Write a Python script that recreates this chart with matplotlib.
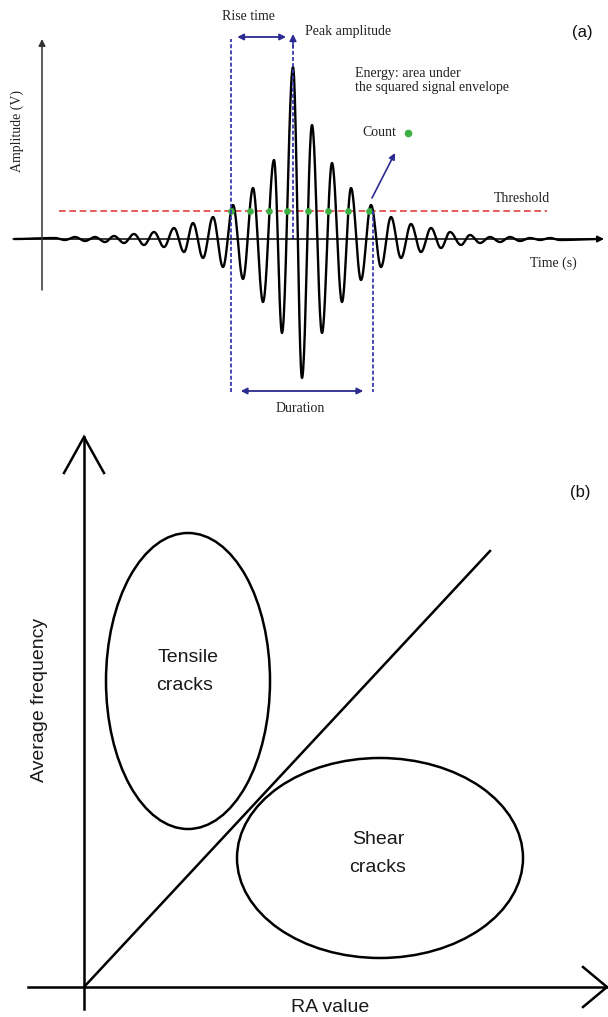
import numpy as np
import matplotlib
matplotlib.use("Agg")
import matplotlib.pyplot as plt
from matplotlib.patches import Ellipse

# ---------------------------------------------------------------
# Panel (a): acoustic-emission burst (time and amplitude in arbitrary units)
# successive peaks / troughs of the waveform
wave_times = [1.3, 2.3, 3.3, 4.3, 5.3, 6.3, 7.2, 8.2, 9.2, 10.2, 11.2, 12.2,
              13.2, 14.2, 15.1, 16.1, 17.1, 18.1, 19.1, 20.1, 21.1, 22.1,
              23.2, 24.0, 25.1, 26.0, 27.0, 28.0, 29.0, 30.0, 30.9, 31.9,
              32.9, 33.9, 34.9, 35.9, 36.9, 37.9, 38.9, 39.9, 40.8, 41.9,
              42.8, 43.8, 44.8, 45.8, 46.8, 47.8, 48.8, 49.8, 50.8, 51.8]
wave_amps = [0.1, -0.1, 0.2, -0.2, 0.2, -0.3, 0.3, -0.4, 0.5, -0.6, 0.7, -0.8,
             1.1, -1.3, 1.6, -1.9, 2.2, -2.8, 3.4, -4.0, 5.1, -6.3,
             7.9, -9.4, 17.2, -13.9, 11.4, -9.4, 7.6, -6.3, 5.1, -4.1,
             3.4, -2.8, 2.2, -1.9, 1.5, -1.3, 1.1, -0.9, 0.7, -0.6,
             0.4, -0.4, 0.2, -0.3, 0.2, -0.2, 0.1, -0.1, 0.1, -0.1]
wave_start = -2.7
wave_end = 55.8
threshold = 2.8
threshold_span = [1.7, 50.5]

# Panel (b): RA value vs. average frequency classification
boundary_ra = [0.0, 40.6]
boundary_af = [0.0, 43.6]
tensile_center = (10.4, 30.6)
tensile_size = (16.4, 29.6)
shear_center = (29.6, 12.9)
shear_size = (28.6, 20.0)

SERIF = ["Liberation Serif", "DejaVu Serif"]
SANS = ["Liberation Sans", "DejaVu Sans"]
NAVY = "#2b2b90"
BLUE_DASH = "#3a3ab0"
RED = "#e2413d"
GREEN = "#3cb043"


def burst_curve(kt, ka, n=24):
    """Smooth half-cosine transitions between consecutive extrema."""
    ts, ys = [], []
    for t0, t1, a0, a1 in zip(kt[:-1], kt[1:], ka[:-1], ka[1:]):
        s = np.linspace(0.0, 1.0, n, endpoint=False)
        ts.append(t0 + (t1 - t0) * s)
        ys.append(a0 + (a1 - a0) * (1 - np.cos(np.pi * s)) / 2)
    ts.append([kt[-1]])
    ys.append([ka[-1]])
    return np.concatenate(ts), np.concatenate(ys)


def level_crossings(kt, ka, level, rising=True):
    out = []
    for t0, t1, a0, a1 in zip(kt[:-1], kt[1:], ka[:-1], ka[1:]):
        if (rising and a0 < level <= a1) or (not rising and a0 >= level > a1):
            s = np.arccos(1 - 2 * (level - a0) / (a1 - a0)) / np.pi
            out.append(t0 + (t1 - t0) * s)
    return out


knots_t = [wave_start] + wave_times + [wave_end]
knots_a = [0.0] + wave_amps + [0.0]
t_curve, a_curve = burst_curve(knots_t, knots_a)
counts = level_crossings(knots_t, knots_a, threshold, rising=True)
t_first = counts[0]
t_last = level_crossings(knots_t, knots_a, threshold, rising=False)[-1]
t_peak = wave_times[int(np.argmax(wave_amps))]

W, H = 608, 1017
fig = plt.figure(figsize=(W / 100, H / 100), dpi=100)
fig.patch.set_facecolor("white")

# ------------------------------ panel (a)
ax = fig.add_axes([0, 1 - 420 / H, 1, 420 / H])
ax.set_xlim(-4.2, 56.6)
ax.set_ylim(-18.1, 23.9)
ax.axis("off")

# axes of the sketch
ax.annotate("", xy=(56.2, 0), xytext=(-2.9, 0),
            arrowprops=dict(arrowstyle="-|>", color="black", lw=1.1,
                            mutation_scale=10, shrinkA=0, shrinkB=0))
ax.annotate("", xy=(0, 20.0), xytext=(0, -5.1),
            arrowprops=dict(arrowstyle="-|>", color="#333333", lw=1.1,
                            mutation_scale=10, shrinkA=0, shrinkB=0))

# threshold
ax.plot(threshold_span, [threshold, threshold], color=RED, lw=1.2,
        linestyle=(0, (4, 2.2)))

# waveform
ax.plot(t_curve, a_curve, color="black", lw=1.7, solid_joinstyle="round")

# counts
ax.plot(counts, [threshold] * len(counts), "o", color=GREEN, ms=4.8,
        markeredgewidth=0)

# marker lines
dash = (0, (2.2, 1.2))
ax.plot([t_first, t_first], [-15.3, 20.0], color=BLUE_DASH, lw=1.3, linestyle=dash)
ax.plot([t_last, t_last], [threshold, -15.3], color=BLUE_DASH, lw=1.3, linestyle=dash)
ax.plot([t_peak, t_peak], [0, 19.4], color=BLUE_DASH, lw=1.3, linestyle=dash)
ax.annotate("", xy=(t_peak, 20.5), xytext=(t_peak, 19.2),
            arrowprops=dict(arrowstyle="-|>", color=NAVY, lw=1.2,
                            mutation_scale=10, shrinkA=0, shrinkB=0))

# rise time & duration arrows
ax.annotate("", xy=(t_peak, 20.2), xytext=(t_first, 20.2),
            arrowprops=dict(arrowstyle="<|-|>", color=NAVY, lw=1.3,
                            mutation_scale=9, shrinkA=4.5, shrinkB=5))
ax.annotate("", xy=(t_last, -15.2), xytext=(t_first, -15.2),
            arrowprops=dict(arrowstyle="<|-|>", color=NAVY, lw=1.3,
                            mutation_scale=9, shrinkA=7, shrinkB=7))

# count pointer
ax.annotate("", xy=(35.3, 8.6), xytext=(33.0, 4.1),
            arrowprops=dict(arrowstyle="-|>", color=NAVY, lw=1.2,
                            mutation_scale=9, shrinkA=0, shrinkB=0))
ax.plot([36.6], [10.6], "o", color=GREEN, ms=5.5, markeredgewidth=0)

tkw = dict(family=SERIF, fontsize=10, color="#222222")
ax.text(20.6, 22.2, "Rise time", ha="center", va="center", **tkw)
ax.text(26.3, 20.7, "Peak amplitude", ha="left", va="center", **tkw)
ax.text(31.3, 16.5, "Energy: area under", ha="left", va="center", **tkw)
ax.text(31.3, 15.1, "the squared signal envelope", ha="left", va="center", **tkw)
ax.text(32.0, 10.7, "Count", ha="left", va="center", **tkw)
ax.text(48.0, 4.1, "Threshold", ha="center", va="center", **tkw)
ax.text(51.1, -2.4, "Time (s)", ha="center", va="center", **tkw)
ax.text(25.8, -16.9, "Duration", ha="center", va="center", **tkw)
ax.text(-2.5, 10.8, "Amplitude (V)", ha="center", va="center",
        rotation=90, **tkw)
ax.text(54.0, 20.7, "(a)", ha="center", va="center", family=SANS,
        fontsize=12, color="#111111")

# ------------------------------ panel (b)
bx = fig.add_axes([0, 0, 1, 597 / H])
bx.set_xlim(-8.4, 52.4)
bx.set_ylim(-3.0, 56.7)
bx.axis("off")

lw_b = 1.8
bx.plot([-5.6, 52.3], [0, 0], color="black", lw=lw_b)
bx.plot([49.9, 52.3, 49.9], [2.0, 0, -2.0], color="black", lw=lw_b,
        solid_joinstyle="miter")
bx.plot([0, 0], [-2.2, 55.0], color="black", lw=lw_b)
bx.plot([-2.0, 0, 2.0], [51.4, 55.0, 51.4], color="black", lw=lw_b,
        solid_joinstyle="miter")

bx.plot(boundary_ra, boundary_af, color="black", lw=lw_b)
bx.add_patch(Ellipse(tensile_center, *tensile_size, fill=False,
                     edgecolor="black", lw=lw_b))
bx.add_patch(Ellipse(shear_center, *shear_size, fill=False,
                     edgecolor="black", lw=lw_b))

skw = dict(family=SANS, fontsize=14, color="#1a1a1a", ha="center", va="center")
bx.text(10.4, 32.9, "Tensile", **skw)
bx.text(10.1, 30.1, "cracks", **skw)
bx.text(29.4, 14.7, "Shear", **skw)
bx.text(29.4, 11.9, "cracks", **skw)
bx.text(24.6, -2.1, "RA value", **skw)
bx.text(-4.4, 28.7, "Average frequency", rotation=90, **skw)
bx.text(49.6, 49.4, "(b)", family=SANS, fontsize=12, color="#111111",
        ha="center", va="center")

fig.savefig("out.png", dpi=100, facecolor="white")
